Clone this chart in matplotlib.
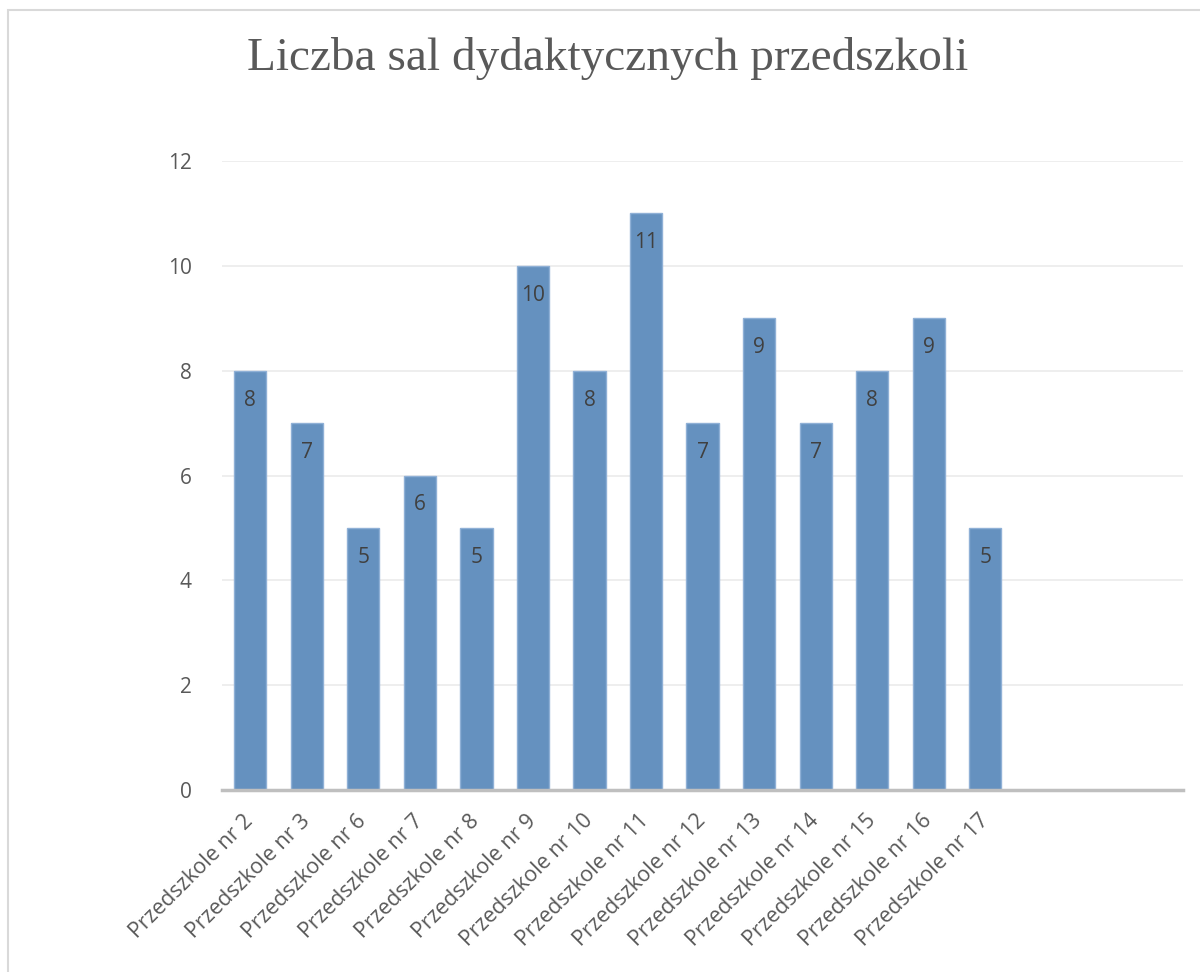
import matplotlib.pyplot as plt
from matplotlib.patches import Rectangle

categories = ["Przedszkole nr 2", "Przedszkole nr 3", "Przedszkole nr 6", "Przedszkole nr 7",
              "Przedszkole nr 8", "Przedszkole nr 9", "Przedszkole nr 10", "Przedszkole nr 11",
              "Przedszkole nr 12", "Przedszkole nr 13", "Przedszkole nr 14", "Przedszkole nr 15",
              "Przedszkole nr 16", "Przedszkole nr 17"]
values = [8, 7, 5, 6, 5, 10, 8, 11, 7, 9, 7, 8, 9, 5]
empty_slots = 3  # empty categories at the right end of the axis
yticks = [0, 2, 4, 6, 8, 10, 12]

plt.rcParams['font.family'] = ['Open Sans', 'DejaVu Sans']

fig = plt.figure(figsize=(12, 9.72), dpi=100)
# light frame round the chart area
fig.patches.append(Rectangle((8 / 1200, -0.1), 1.2, 1.1 - 10 / 972, transform=fig.transFigure,
                             fill=False, edgecolor="#D9D9D9", linewidth=1.5))

ax = fig.add_axes([0.185, 0.1872, 0.801, 0.6472])
x = list(range(len(categories)))
ax.bar(x, values, width=0.57, color="#6591BF", edgecolor="#8FB0D6", linewidth=1)

# value labels inside the top of each bar
for xi, v in zip(x, values):
    ax.text(xi, v - 0.56, str(v), ha="center", va="center", fontsize=15, color="#404040")

ax.set_xlim(-0.5, len(categories) + empty_slots - 0.5)
ax.set_ylim(0, 12)
ax.set_yticks(yticks)
ax.set_xticks(x)
ax.set_xticklabels(categories, rotation=45, ha="right", va="center", rotation_mode="anchor",
                   fontsize=15.5, color="#595959")
ax.tick_params(axis="x", length=0, pad=20)
ax.tick_params(axis="y", length=0, pad=22, labelsize=15, labelcolor="#595959")
ax.grid(axis="y", color="#EBEBEB", linewidth=1.2)
ax.set_axisbelow(True)
for s in ["top", "right", "left"]:
    ax.spines[s].set_visible(False)
ax.spines["bottom"].set_color("#BFBFBF")
ax.spines["bottom"].set_linewidth(2.5)

fig.text(0.506, 0.94, "Liczba sal dydaktycznych przedszkoli", ha="center", va="center",
         fontsize=34, color="#595959", family=["Liberation Serif"])

fig.savefig("out.png")
